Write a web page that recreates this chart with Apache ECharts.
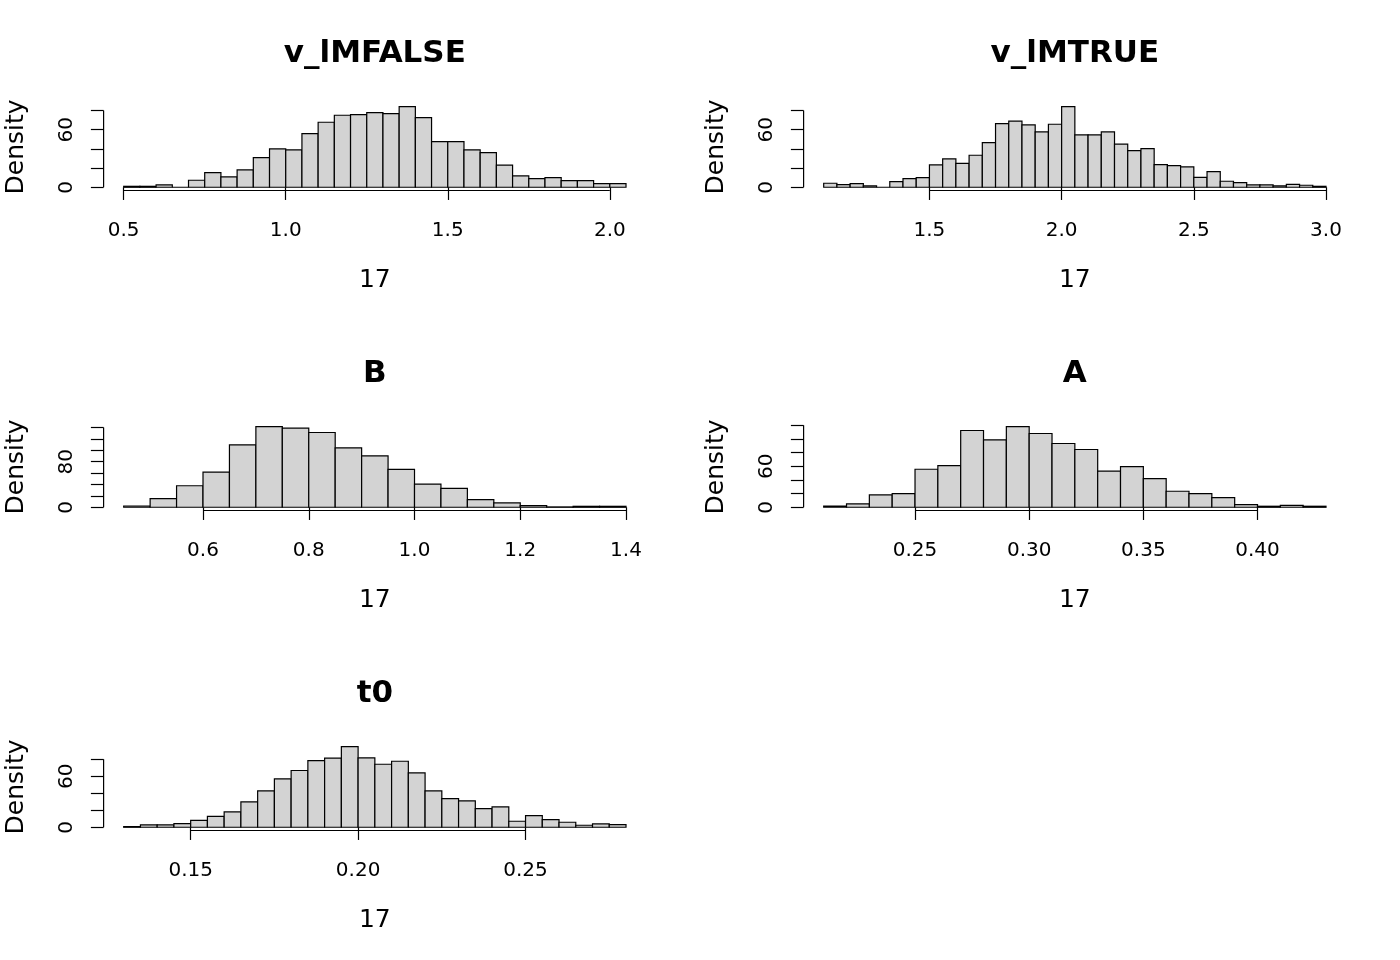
<!DOCTYPE html>
<html><head><meta charset="utf-8">
<script src="https://cdn.jsdelivr.net/npm/echarts@6/dist/echarts.min.js"></script>
<style>html,body{margin:0;padding:0;background:#fff}#c{width:1400px;height:960px}</style>
</head><body><div id="c"></div>
<script>
// ---- data ----
const panelTitles = ['v_lMFALSE', 'v_lMTRUE', 'B', 'A', 't0'];
const xAxisTitle = '17';
const yAxisTitle = 'Density';

const vlmFalseStart = 0.5, vlmFalseWidth = 0.05;
const vlmFalseDensity = [1.0, 1.0, 2.4, 0, 7.3, 15.3, 10.8, 18.1, 31.0, 40.0, 39.0, 56.0, 67.8, 75.1, 75.8, 77.9, 76.9, 84.2, 72.7, 47.7, 47.7, 39.0, 36.2, 23.0, 11.8, 9.0, 10.0, 7.0, 7.0, 3.8, 3.8];
const vlmFalseXTicks = [0.5, 1.0, 1.5, 2.0];
const vlmFalseXTickLabels = ['0.5', '1.0', '1.5', '2.0'];
const vlmFalseYTicks = [0, 20, 40, 60, 80];
const vlmFalseYTickLabels = [0, 60];

const vlmTrueStart = 1.1, vlmTrueWidth = 0.05;
const vlmTrueDensity = [4.2, 2.8, 3.8, 1.4, 0, 5.9, 9.0, 10.0, 23.3, 29.6, 25.0, 33.4, 46.6, 66.4, 68.9, 65.0, 57.7, 65.7, 84.2, 54.6, 54.6, 57.7, 44.9, 38.3, 40.3, 23.7, 22.6, 21.2, 10.4, 16.3, 6.3, 4.9, 2.4, 2.4, 1.4, 3.1, 2.1, 1.0];
const vlmTrueXTicks = [1.5, 2.0, 2.5, 3.0];
const vlmTrueXTickLabels = ['1.5', '2.0', '2.5', '3.0'];
const vlmTrueYTicks = [0, 20, 40, 60, 80];
const vlmTrueYTickLabels = [0, 60];

const bStart = 0.45, bWidth = 0.05;
const bDensity = [2.2, 15.2, 37.8, 61.7, 109.7, 141.8, 138.9, 131.3, 104.4, 90.4, 66.5, 40.8, 33.3, 13.4, 7.6, 2.9, 0.6, 1.7, 1.7];
const bXTicks = [0.6, 0.8, 1.0, 1.2, 1.4];
const bXTickLabels = ['0.6', '0.8', '1.0', '1.2', '1.4'];
const bYTicks = [0, 20, 40, 60, 80, 100, 120, 140];
const bYTickLabels = [0, 80];

const aStart = 0.21, aWidth = 0.01;
const aDensity = [1.8, 5.0, 18.0, 20.0, 55.6, 61.0, 112.2, 98.5, 118.0, 107.8, 93.2, 84.4, 52.7, 59.5, 42.0, 23.4, 20.0, 14.1, 3.9, 1.5, 2.9, 1.5];
const aXTicks = [0.25, 0.30, 0.35, 0.40];
const aXTickLabels = ['0.25', '0.30', '0.35', '0.40'];
const aYTicks = [0, 20, 40, 60, 80, 100, 120];
const aYTickLabels = [0, 60];

const t0Start = 0.13, t0Width = 0.005;
const t0Density = [0.8, 2.7, 2.7, 4.3, 8.2, 12.9, 18.0, 29.8, 42.7, 56.9, 66.7, 78.4, 81.2, 94.9, 81.6, 74.1, 77.6, 63.9, 42.7, 33.7, 31.0, 22.0, 23.9, 7.1, 13.7, 9.0, 5.9, 2.4, 3.9, 3.1];
const t0XTicks = [0.15, 0.20, 0.25];
const t0XTickLabels = ['0.15', '0.20', '0.25'];
const t0YTicks = [0, 20, 40, 60, 80];
const t0YTickLabels = [0, 60];

// ---- layout / style ----
const FONT = 'DejaVu Sans';
const colLeft = [103.6, 803.6], plotW = 542.5;
const rowTop = [103.3, 423.3, 743.3], plotH = 87.2;
const LW = 1.2;

const panels = [
  {start: vlmFalseStart, width: vlmFalseWidth, dens: vlmFalseDensity, xt: vlmFalseXTicks, xl: vlmFalseXTickLabels, yt: vlmFalseYTicks, yl: vlmFalseYTickLabels},
  {start: vlmTrueStart, width: vlmTrueWidth, dens: vlmTrueDensity, xt: vlmTrueXTicks, xl: vlmTrueXTickLabels, yt: vlmTrueYTicks, yl: vlmTrueYTickLabels},
  {start: bStart, width: bWidth, dens: bDensity, xt: bXTicks, xl: bXTickLabels, yt: bYTicks, yl: bYTickLabels},
  {start: aStart, width: aWidth, dens: aDensity, xt: aXTicks, xl: aXTickLabels, yt: aYTicks, yl: aYTickLabels},
  {start: t0Start, width: t0Width, dens: t0Density, xt: t0XTicks, xl: t0XTickLabels, yt: t0YTicks, yl: t0YTickLabels}
];

const grids = [], xAxes = [], yAxes = [], series = [], titles = [];
panels.forEach((p, i) => {
  const col = i % 2, row = Math.floor(i / 2);
  const n = p.dens.length;
  const x0 = p.start, x1 = p.start + n * p.width;
  const xr = x1 - x0;
  const ymax = Math.max.apply(null, p.dens);
  const xmin = x0 - 0.04 * xr, xmax = x1 + 0.04 * xr;
  const ymin = -0.04 * ymax, ymaxAx = 1.04 * ymax;
  grids.push({left: colLeft[col], top: rowTop[row], width: plotW, height: plotH});
  titles.push({
    text: panelTitles[i], left: colLeft[col] + plotW / 2 - 5, textAlign: 'center',
    top: rowTop[row] - 70,
    textStyle: {fontFamily: FONT, fontSize: 31, fontWeight: 'bold', color: '#000'}
  });
  xAxes.push({
    type: 'value', gridIndex: i, min: xmin, max: xmax,
    splitLine: {show: false}, axisLine: {show: false},
    axisTick: {show: true, customValues: p.xt, length: 12.7, lineStyle: {color: '#000', width: LW}},
    axisLabel: {customValues: p.xt, margin: 30, fontSize: 20, fontFamily: FONT, color: '#000',
      formatter: v => { const k = p.xt.findIndex(t => Math.abs(t - v) < 1e-9); return k >= 0 ? p.xl[k] : ''; }},
    name: xAxisTitle, nameLocation: 'middle', nameGap: 77,
    nameTextStyle: {fontFamily: FONT, fontSize: 25, color: '#000'}
  });
  yAxes.push({
    type: 'value', gridIndex: i, min: ymin, max: ymaxAx,
    splitLine: {show: false}, axisLine: {show: false},
    axisTick: {show: true, customValues: p.yt, length: 12.7, lineStyle: {color: '#000', width: LW}},
    axisLabel: {customValues: p.yl, rotate: 90, margin: 27, fontSize: 20, fontFamily: FONT, color: '#000',
      formatter: v => String(Math.round(v))},
    name: yAxisTitle, nameLocation: 'middle', nameGap: 75,
    nameTextStyle: {fontFamily: FONT, fontSize: 25, color: '#000'}
  });
  const bins = p.dens.map((d, k) => [p.start + k * p.width, p.start + (k + 1) * p.width, d]);
  series.push({
    type: 'custom', xAxisIndex: i, yAxisIndex: i, data: bins, silent: true, animation: false,
    encode: {x: [0, 1], y: 2},
    renderItem: (params, api) => {
      const a = api.coord([api.value(0), api.value(2)]);
      const b = api.coord([api.value(1), 0]);
      return {type: 'rect', shape: {x: a[0], y: a[1], width: b[0] - a[0], height: b[1] - a[1]},
        style: {fill: '#D3D3D3', stroke: '#000', lineWidth: LW}};
    }
  });
  // R-style axis lines spanning first to last tick
  series.push({
    type: 'line', xAxisIndex: i, yAxisIndex: i, silent: true, animation: false, clip: false,
    showSymbol: false, symbol: 'none', lineStyle: {color: '#000', width: LW},
    data: [[p.xt[0], ymin], [p.xt[p.xt.length - 1], ymin]]
  });
  series.push({
    type: 'line', xAxisIndex: i, yAxisIndex: i, silent: true, animation: false, clip: false,
    showSymbol: false, symbol: 'none', lineStyle: {color: '#000', width: LW},
    data: [[xmin, p.yt[0]], [xmin, p.yt[p.yt.length - 1]]]
  });
});

const chart = echarts.init(document.getElementById('c'), null, {renderer: 'canvas'});
chart.setOption({
  backgroundColor: '#fff', animation: false,
  title: titles, grid: grids, xAxis: xAxes, yAxis: yAxes, series: series
});
</script></body></html>
